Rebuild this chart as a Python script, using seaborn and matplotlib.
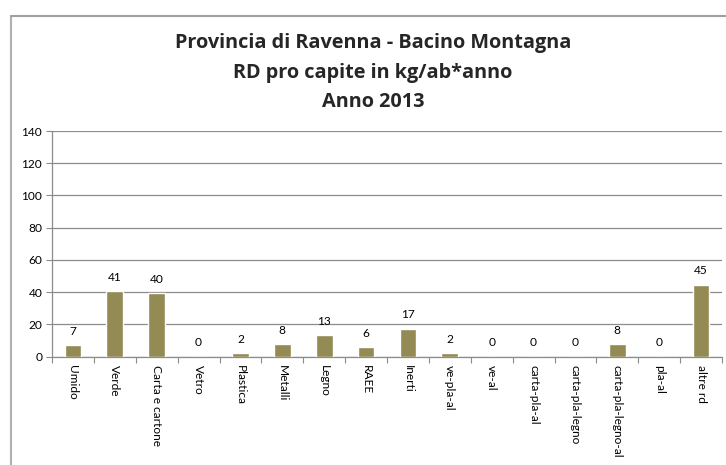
import matplotlib
matplotlib.use("Agg")
import matplotlib.pyplot as plt
import seaborn as sns
import pandas as pd
from matplotlib.lines import Line2D

categories = ["Umido", "Verde", "Carta e cartone", "Vetro", "Plastica", "Metalli",
              "Legno", "RAEE", "Inerti", "ve-pla-al", "ve-al", "carta-pla-al",
              "carta-pla-legno", "carta-pla-legno-al", "pla-al", "altre rd"]
values = [7.3, 40.5, 39.6, 0.1, 2.3, 7.8, 13.2, 6.0, 17.4, 2.0, 0.0, 0.0, 0.0, 7.6, 0.0, 44.6]
labels = ["7", "41", "40", "0", "2", "8", "13", "6", "17", "2", "0", "0", "0", "8", "0", "45"]
yticks = [0, 20, 40, 60, 80, 100, 120, 140]
title_lines = ["Provincia di Ravenna - Bacino Montagna", "RD pro capite in kg/ab*anno", "Anno 2013"]

sns.set_theme(style="white")
plt.rcParams['font.family'] = ['Lato', 'DejaVu Sans']

df = pd.DataFrame({"cat": categories, "val": values})

fig = plt.figure(figsize=(7.26, 4.65), dpi=100)
ax = fig.add_axes([52/726, 1 - 356.7/465, (722-52)/726, (356.7-131)/465])

sns.barplot(data=df, x="cat", y="val", color="#948A54", saturation=1, width=0.4, ax=ax, zorder=3)

fs = 8.6
ax.set_ylim(0, 140)
ax.set_yticks(yticks)
ax.set_yticklabels([str(t) for t in yticks], fontsize=fs, color="#000000")
ax.set_xlim(-0.5, len(categories) - 0.5)
ax.set_xticks(range(len(categories)))
ax.set_xticklabels(categories, rotation=270, fontsize=fs, va="top", ha="center", color="#000000")
ax.set_xlabel("")
ax.set_ylabel("")

ax.yaxis.grid(True, color="#8c8c8c", linewidth=0.9, zorder=0)
ax.set_axisbelow(True)
for s in ["top", "right"]:
    ax.spines[s].set_visible(False)
for s in ["left", "bottom"]:
    ax.spines[s].set_color("#8c8c8c")
    ax.spines[s].set_linewidth(0.9)

ax.tick_params(axis="y", length=4, width=0.8, color="#8c8c8c", pad=3, left=True)
ax.tick_params(axis="x", length=0, pad=6)
ax.set_xticks([i - 0.5 for i in range(len(categories) + 1)], minor=True)
ax.tick_params(axis="x", which="minor", length=4, width=0.8, color="#8c8c8c", bottom=True, direction="out")

for i, (v, lab) in enumerate(zip(values, labels)):
    ax.annotate(lab, (i, v), xytext=(0, 6), textcoords="offset points",
                ha="center", va="bottom", fontsize=fs, color="#000000")

tfont = ['Open Sans', 'DejaVu Sans']
for lab, yy in zip(title_lines, [43, 73, 102]):
    fig.text(373/726, 1 - yy/465, lab, ha="center", va="center", fontsize=14.3,
             fontweight="bold", family=tfont)

fig.add_artist(Line2D([11/726, 11/726], [0, 1 - 16/465], transform=fig.transFigure, color="#b0b0b0", linewidth=1.5))
fig.add_artist(Line2D([11/726, 1], [1 - 16/465, 1 - 16/465], transform=fig.transFigure, color="#a0a0a0", linewidth=1.5))

fig.savefig("out.png", dpi=100)
